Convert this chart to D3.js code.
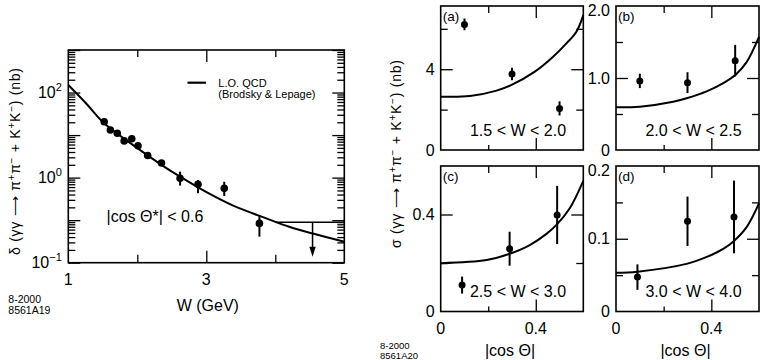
<!DOCTYPE html>
<html><head><meta charset="utf-8">
<script src="https://cdn.jsdelivr.net/npm/d3@7"></script>
<style>
body{margin:0;background:#fff}
svg{font-family:"Liberation Sans",Arial,Helvetica,sans-serif}
</style>
</head><body>
<svg id="c" width="760" height="360"></svg>
<script>
// ---------------- DATA ----------------
// Left panel: integrated cross section vs W (|cos θ*| < 0.6)
const wData      = [1.52, 1.61, 1.71, 1.81, 1.92, 2.01, 2.15, 2.35, 2.62, 2.88, 3.26, 3.77];
const sigmaData  = [20.6, 13.2, 11.0, 7.3, 8.2, 5.6, 3.3, 2.2, 0.96, 0.70, 0.56, 0.084];
const sigmaLo    = [null, null, null, null, null, null, null, null, 0.65, 0.43, 0.37, 0.041];
const sigmaHi    = [null, null, null, null, null, null, null, null, 1.38, 0.88, 0.80, 0.132];
const limitW     = [4.0, 5.0];
const limitSigma = 0.089;
const limitArrowW = 4.54;
const limitArrowTo = 0.0138;
const qcdW       = [1.0, 1.266, 1.52, 1.94, 2.35, 2.62, 3.03, 3.39, 3.87, 4.20, 4.53, 5.0];
const qcdSigma   = [150, 53.8, 18.9, 5.8, 2.0, 1.05, 0.43, 0.219, 0.110, 0.070, 0.049, 0.031];
const leftYTicks = [100, 1, 0.01];
const leftYTickLabels = [["10","2"], ["10","0"], ["10","\u22121"]];
const leftXTicks = [1, 3, 5];
const legendLines = ["L.O. QCD", "(Brodsky & Lepage)"];
const cutLabel = "|cos \u0398*| < 0.6";

// Right panels: differential cross section vs |cos θ|
const panelTags   = ["(a)", "(b)", "(c)", "(d)"];
const panelRanges = ["1.5 < W < 2.0", "2.0 < W < 2.5", "2.5 < W < 3.0", "3.0 < W < 4.0"];
const panelYMax   = [7.13, 2.0, 0.6, 0.2];
const panelYLabelTicks = [[0, 4], [0, 1.0, 2.0], [0, 0.4], [0, 0.1, 0.2]];
const panelYMajor = [[4], [1.0], [0.4], [0.1]];
const panelYMinor = [[2, 6], [0.5, 1.5], [0.2], [0.05, 0.15]];
const panelYFmt   = [".0f", ".1f", ".1f", ".1f"];

const cosA = [0.10, 0.30, 0.50], sigA = [6.22, 3.76, 2.06], errA = [0.29, 0.31, 0.35];
const cosB = [0.10, 0.30, 0.50], sigB = [0.96, 0.935, 1.24], errB = [0.10, 0.145, 0.22];
const cosC = [0.09, 0.29, 0.49], sigC = [0.109, 0.259, 0.398], errC = [0.035, 0.07, 0.12];
const cosD = [0.09, 0.30, 0.495], sigD = [0.0473, 0.124, 0.130], errD = [0.0175, 0.034, 0.05];

const curveCosA = [0, 0.123, 0.235, 0.298, 0.396, 0.473, 0.529, 0.571, 0.6];
const curveSigA = [2.64, 2.67, 2.94, 3.22, 3.88, 4.62, 5.28, 5.86, 6.68];
const curveCosB = [0, 0.10, 0.24, 0.30, 0.38, 0.45, 0.503, 0.548, 0.6];
const curveSigB = [0.593, 0.602, 0.671, 0.722, 0.815, 0.93, 1.05, 1.22, 1.57];
const curveCosC = [0, 0.193, 0.287, 0.375, 0.445, 0.487, 0.543, 0.6];
const curveSigC = [0.199, 0.212, 0.237, 0.274, 0.320, 0.357, 0.426, 0.539];
const curveCosD = [0, 0.091, 0.30, 0.381, 0.45, 0.495, 0.548, 0.6];
const curveSigD = [0.0534, 0.0548, 0.0658, 0.075, 0.086, 0.097, 0.116, 0.1486];

const cosTicksLabeled = [0, 0.4];
const cosMinor = [0.2];
const cosLabel = "|cos \u0398|";
const leftStamp = ["8-2000", "8561A19"];
const rightStamp = ["8-2000", "8561A20"];

// ---------------- DRAW ----------------
const svg = d3.select("#c");
const ink = "#000";

function inwardAxis(g, axisFn, scale, values, size, translate) {
  const a = axisFn(scale).tickValues(values).tickSize(-size).tickSizeOuter(0).tickFormat("");
  const sel = g.append("g").attr("transform", translate).call(a);
  sel.select(".domain").remove();
  sel.selectAll("line").attr("stroke", ink).attr("stroke-width", 1.3);
  return sel;
}

function richText(g, segs, size, supSize) {
  const shift = size * 0.38;
  let pending = 0;
  segs.forEach(s => {
    const t = g.append("tspan");
    if (s.sup) {
      t.attr("dy", pending - shift).style("font-size", supSize + "px");
      pending = shift;
    } else {
      if (pending) t.attr("dy", pending);
      pending = 0;
    }
    t.text(s.t);
  });
}

// ===== Left panel =====
const L = {x0: 68.3, x1: 344.3, y0: 50, y1: 262.7};
const xW = d3.scaleLinear().domain([1, 5]).range([L.x0, L.x1]);
const yL = d3.scaleLog().domain([1e-2, 1e3]).range([L.y1, L.y0]);
const gl = svg.append("g");

const decades = d3.range(-2, 3);
const yMajorL = d3.range(-2, 4).map(e => Math.pow(10, e));
const yMinorL = [];
decades.forEach(e => { for (let k = 2; k <= 9; k++) yMinorL.push(k * Math.pow(10, e)); });

inwardAxis(gl, d3.axisLeft, yL, yMajorL, 12, `translate(${L.x0},0)`);
inwardAxis(gl, d3.axisLeft, yL, yMinorL, 7, `translate(${L.x0},0)`);
inwardAxis(gl, d3.axisRight, yL, yMajorL, 12, `translate(${L.x1},0)`);
inwardAxis(gl, d3.axisRight, yL, yMinorL, 7, `translate(${L.x1},0)`);
inwardAxis(gl, d3.axisBottom, xW, [3], 12, `translate(0,${L.y1})`);
inwardAxis(gl, d3.axisBottom, xW, [2, 4], 8, `translate(0,${L.y1})`);
inwardAxis(gl, d3.axisTop, xW, [3], 12, `translate(0,${L.y0})`);
inwardAxis(gl, d3.axisTop, xW, [2, 4], 7, `translate(0,${L.y0})`);

gl.append("rect").attr("x", L.x0).attr("y", L.y0).attr("width", L.x1 - L.x0).attr("height", L.y1 - L.y0)
  .attr("fill", "none").attr("stroke", ink).attr("stroke-width", 1.6);

// y tick labels
leftYTicks.forEach((v, i) => {
  const t = gl.append("text").attr("x", L.x0 - 6.5).attr("y", yL(v) + 5.5)
    .attr("text-anchor", "end").style("font-size", "16px").attr("fill", ink);
  t.append("tspan").text(leftYTickLabels[i][0]);
  t.append("tspan").attr("dy", -7).style("font-size", "11px").text(leftYTickLabels[i][1]);
});
// x tick labels
gl.selectAll(".xl").data(leftXTicks).enter().append("text")
  .attr("x", d => xW(d)).attr("y", 285).attr("text-anchor", "middle")
  .style("font-size", "16px").text(d => d);
gl.append("text").attr("x", (L.x0 + L.x1) / 2 + 1.5).attr("y", 311).attr("text-anchor", "middle")
  .style("font-size", "16px").text("W (GeV)");

// y axis title
const ytl = gl.append("text").attr("transform", "translate(20,161.5) rotate(-90)")
  .attr("text-anchor", "middle").style("font-size", "14px")
  .attr("textLength", 187).attr("lengthAdjust", "spacing");
richText(ytl, [{t:"\u03B4 (\u03B3\u03B3 \u27F6 \u03C0"},{t:"+",sup:1},{t:"\u03C0"},{t:"\u2212",sup:1},
  {t:" + K"},{t:"+",sup:1},{t:"K"},{t:"\u2212",sup:1},{t:") (nb)"}], 14, 10);

// QCD curve
const lineL = d3.line().x(d => xW(d[0])).y(d => yL(d[1])).curve(d3.curveCatmullRom.alpha(0.5));
gl.append("path").datum(qcdW.map((w, i) => [w, qcdSigma[i]]))
  .attr("d", lineL).attr("fill", "none").attr("stroke", ink).attr("stroke-width", 2);

// error bars
wData.forEach((w, i) => {
  if (sigmaLo[i] != null) {
    gl.append("line").attr("x1", xW(w)).attr("x2", xW(w)).attr("y1", yL(sigmaLo[i])).attr("y2", yL(sigmaHi[i]))
      .attr("stroke", ink).attr("stroke-width", 2);
  }
});
gl.selectAll(".pt").data(wData).enter().append("circle")
  .attr("cx", d => xW(d)).attr("cy", (d, i) => yL(sigmaData[i])).attr("r", 3.8).attr("fill", ink);

// upper limit
gl.append("line").attr("x1", xW(limitW[0])).attr("x2", xW(limitW[1]))
  .attr("y1", yL(limitSigma)).attr("y2", yL(limitSigma)).attr("stroke", ink).attr("stroke-width", 1.5);
gl.append("line").attr("x1", xW(limitArrowW)).attr("x2", xW(limitArrowW))
  .attr("y1", yL(limitSigma)).attr("y2", yL(limitArrowTo) - 8).attr("stroke", ink).attr("stroke-width", 1.5);
{
  const ax = xW(limitArrowW), ay = yL(limitArrowTo);
  gl.append("path").attr("d", `M${ax - 3.2},${ay - 10}L${ax + 3.2},${ay - 10}L${ax},${ay}Z`).attr("fill", ink);
}

// legend
gl.append("line").attr("x1", 187.5).attr("x2", 206).attr("y1", 82.7).attr("y2", 82.7)
  .attr("stroke", ink).attr("stroke-width", 2.2);
legendLines.forEach((s, i) => {
  gl.append("text").attr("x", 218.3).attr("y", 87 + i * 11).style("font-size", "11px").text(s);
});
gl.append("text").attr("x", 106.5).attr("y", 222).style("font-size", "16px").text(cutLabel);

leftStamp.forEach((s, i) => {
  gl.append("text").attr("x", 8.3).attr("y", 303 + i * 11).style("font-size", "10.5px").text(s);
});

// ===== Right panels =====
const panels = [
  {x0: 440.7, x1: 583.3, y0: 6, y1: 150, cos: cosA, sig: sigA, err: errA, cc: curveCosA, cs: curveSigA},
  {x0: 616, x1: 759, y0: 6, y1: 150, cos: cosB, sig: sigB, err: errB, cc: curveCosB, cs: curveSigB},
  {x0: 440.7, x1: 583.3, y0: 166, y1: 311.5, cos: cosC, sig: sigC, err: errC, cc: curveCosC, cs: curveSigC},
  {x0: 616, x1: 759, y0: 166, y1: 311.5, cos: cosD, sig: sigD, err: errD, cc: curveCosD, cs: curveSigD}
];

panels.forEach((p, k) => {
  const g = svg.append("g");
  const x = d3.scaleLinear().domain([0, 0.6]).range([p.x0, p.x1]);
  const y = d3.scaleLinear().domain([0, panelYMax[k]]).range([p.y1, p.y0]);

  inwardAxis(g, d3.axisLeft, y, panelYMajor[k], 12, `translate(${p.x0},0)`);
  inwardAxis(g, d3.axisLeft, y, panelYMinor[k], 7, `translate(${p.x0},0)`);
  inwardAxis(g, d3.axisRight, y, panelYMajor[k], 12, `translate(${p.x1},0)`);
  inwardAxis(g, d3.axisRight, y, panelYMinor[k], 7, `translate(${p.x1},0)`);
  inwardAxis(g, d3.axisTop, x, [0.4], 12, `translate(0,${p.y0})`);
  inwardAxis(g, d3.axisTop, x, cosMinor, 7, `translate(0,${p.y0})`);
  inwardAxis(g, d3.axisBottom, x, [0.4], 12, `translate(0,${p.y1})`);
  inwardAxis(g, d3.axisBottom, x, cosMinor, 5, `translate(0,${p.y1})`);

  g.append("rect").attr("x", p.x0).attr("y", p.y0).attr("width", p.x1 - p.x0).attr("height", p.y1 - p.y0)
    .attr("fill", "none").attr("stroke", ink).attr("stroke-width", 1.6);

  const fmt = d3.format(panelYFmt[k]);
  g.selectAll(".yl").data(panelYLabelTicks[k]).enter().append("text")
    .attr("x", p.x0 - 6).attr("y", d => Math.max(y(d) + 5.5, p.y0 + 9.5)).attr("text-anchor", "end")
    .style("font-size", "16px").text(d => d === 0 ? "0" : fmt(d));

  if (k >= 2) {
    g.selectAll(".xl").data(cosTicksLabeled).enter().append("text")
      .attr("x", d => x(d)).attr("y", 334).attr("text-anchor", "middle")
      .style("font-size", "16px").text(d => d === 0 ? "0" : d3.format(".1f")(d));
    g.append("text").attr("x", x(0.3) - 2).attr("y", 356).attr("text-anchor", "middle")
      .style("font-size", "16px").text(cosLabel);
  }

  const line = d3.line().x(d => x(d[0])).y(d => y(d[1])).curve(d3.curveCatmullRom.alpha(0.5));
  g.append("path").datum(p.cc.map((c, i) => [c, p.cs[i]])).attr("d", line)
    .attr("fill", "none").attr("stroke", ink).attr("stroke-width", 2);

  p.cos.forEach((c, i) => {
    g.append("line").attr("x1", x(c)).attr("x2", x(c))
      .attr("y1", y(p.sig[i] - p.err[i])).attr("y2", y(p.sig[i] + p.err[i]))
      .attr("stroke", ink).attr("stroke-width", 2);
  });
  g.selectAll(".pt").data(p.cos).enter().append("circle")
    .attr("cx", d => x(d)).attr("cy", (d, i) => y(p.sig[i])).attr("r", 3.5).attr("fill", ink);

  g.append("text").attr("x", p.x0 + 2).attr("y", p.y0 + 15).style("font-size", "13.5px").text(panelTags[k]);
  g.append("text").attr("x", (p.x0 + p.x1) / 2 + 6).attr("y", p.y1 - 14.5).attr("text-anchor", "middle")
    .style("font-size", "16px").text(panelRanges[k]);
});

// shared y title for right panels
const ytr = svg.append("text").attr("transform", "translate(401,154) rotate(-90)")
  .attr("text-anchor", "middle").style("font-size", "14px")
  .attr("textLength", 188).attr("lengthAdjust", "spacing");
richText(ytr, [{t:"\u03C3 (\u03B3\u03B3 \u27F6 \u03C0"},{t:"+",sup:1},{t:"\u03C0"},{t:"\u2212",sup:1},
  {t:" + K"},{t:"+",sup:1},{t:"K"},{t:"\u2212",sup:1},{t:")  (nb)"}], 14, 10);

rightStamp.forEach((s, i) => {
  svg.append("text").attr("x", 380).attr("y", 349 + i * 10).style("font-size", "9.5px").text(s);
});
</script>
</body></html>
